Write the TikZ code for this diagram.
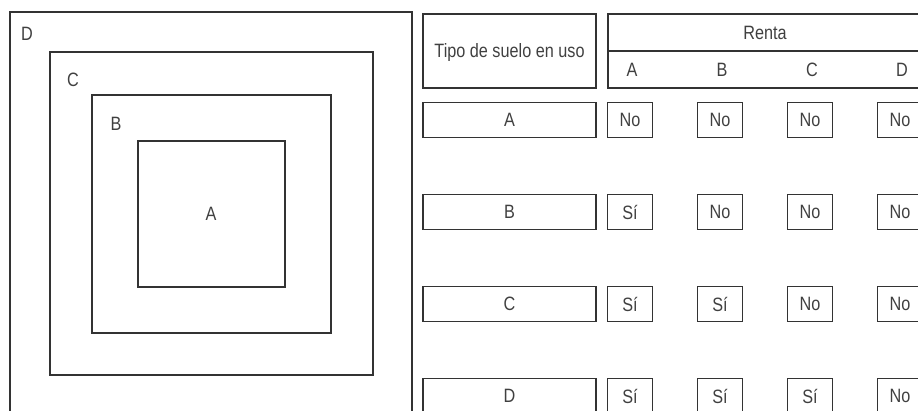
\documentclass[tikz,border=0pt]{standalone}
\usepackage{fontspec}
\setmainfont{Liberation Sans}[FakeStretch=0.84]
\usepackage{tikz}
\usetikzlibrary{positioning}

\tikzset{
  line/.style={line width=0.6pt, draw=black!80},
  usebox/.style={line, rectangle, minimum width=3.46cm, minimum height=0.7cm, inner sep=0pt},
  cellbox/.style={line, rectangle, minimum width=0.9cm, minimum height=0.7cm, inner sep=0pt},
  lbl/.style={text=black!75, inner sep=0pt}
}

\begin{document}
\begin{tikzpicture}[x=0.02cm, y=-0.02cm, font=\fontsize{11}{13}\selectfont]
    \useasboundingbox (0,0) rectangle (918,410);
    \clip (0,0) rectangle (918,410);

    % Nested rings of land use
    \draw[line] (10,12) rectangle (412,414);
    \draw[line] (50,52) rectangle (373,375);
    \draw[line] (92,95) rectangle (331,333);
    \draw[line] (138,141) rectangle (285,287);
    \node[lbl] (ringD) at (27,34) {D};
    \node[lbl] (ringC) at (73,80) {C};
    \node[lbl] (ringB) at (116,124) {B};
    \node[lbl] (ringA) at (211,214) {A};

    % Table header
    \node[line, rectangle, minimum width=3.46cm, minimum height=1.48cm, inner sep=0pt] (tipo) at (509.5,51) {};
    \node[lbl] (tipotxt) at (509.5,52) {Tipo de suelo en uso};
    \draw[line] (940,14) -- (608,14) -- (608,88) -- (940,88);
    \draw[line] (608,51) -- (940,51);
    \node[lbl] (renta) at (765,33) {Renta};
    \foreach \c [count=\j] in {A,B,C,D}
      \node[lbl] (col\c) at ({632+90*(\j-1)},70) {\c};

    % Rows: Si when the column comes before the row
    \foreach \r [count=\i] in {A,B,C,D} {
      \node[usebox] (uso\r) at (509.5,{120+92*(\i-1)}) {\textcolor{black!75}{\r}};
      \foreach \c [count=\j] in {A,B,C,D} {
        \ifnum\j<\i \def\val{Sí}\else\def\val{No}\fi
        \node[cellbox] (cell\r\c) at ({630+90*(\j-1)},{120+92*(\i-1)}) {\textcolor{black!75}{\val}};
      }
    }
\end{tikzpicture}
\end{document}
